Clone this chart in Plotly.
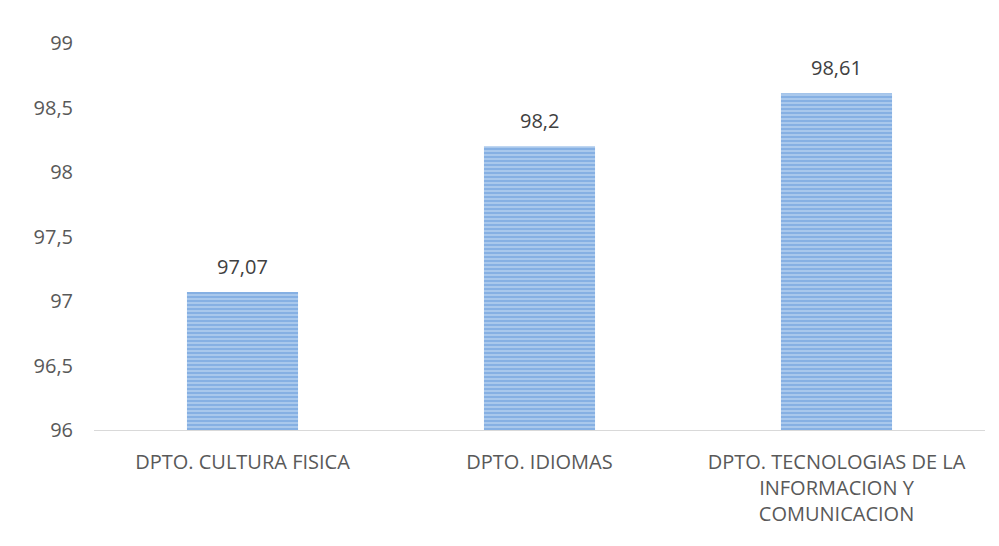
"""Porcentaje por departamento - barras."""

import plotly.graph_objects as go

DEPARTAMENTOS = [
    "DPTO. CULTURA FISICA",
    "DPTO. IDIOMAS",
    "DPTO. TECNOLOGIAS DE LA<br>INFORMACION Y<br>COMUNICACION",
]
VALORES = [97.07, 98.2, 98.61]
TICKS = [96, 96.5, 97, 97.5, 98, 98.5, 99]

FONT = "Open Sans, Lato, sans-serif"

fig = go.Figure(
    go.Bar(
        x=DEPARTAMENTOS,
        y=VALORES,
        marker=dict(
            color="#a9c8ec",
            line=dict(width=0),
            pattern=dict(shape="-", fgcolor="#5b93d8", size=4, solidity=0.45),
        ),
        cliponaxis=False,
    )
)

# etiquetas de valor encima de cada barra (algo separadas, como en el original)
for dep, val in zip(DEPARTAMENTOS, VALORES):
    fig.add_annotation(
        x=dep,
        y=val,
        text=f"{val:g}".replace(".", ","),
        showarrow=False,
        yanchor="bottom",
        yshift=10,
        font=dict(size=20, color="#404040", family=FONT),
    )

# la página tiene 8 px de margen del body, por eso el tamaño es algo menor
fig.update_layout(
    width=983,
    height=530,
    paper_bgcolor="white",
    plot_bgcolor="white",
    separators=",.",
    bargap=0.626,
    showlegend=False,
    margin=dict(l=86, r=6, t=35, b=108),
    font=dict(family=FONT, color="#595959"),
)
fig.update_xaxes(
    showline=True,
    linecolor="#d9d9d9",
    linewidth=1,
    showgrid=False,
    ticks="",
    ticklabelstandoff=14,
    tickfont=dict(size=20, color="#595959"),
)
fig.update_yaxes(
    range=[96, 99],
    tickvals=TICKS,
    showgrid=False,
    zeroline=False,
    showline=False,
    ticks="",
    ticklabelstandoff=20,
    tickfont=dict(size=20, color="#595959"),
)

fig.write_html("out.html")
